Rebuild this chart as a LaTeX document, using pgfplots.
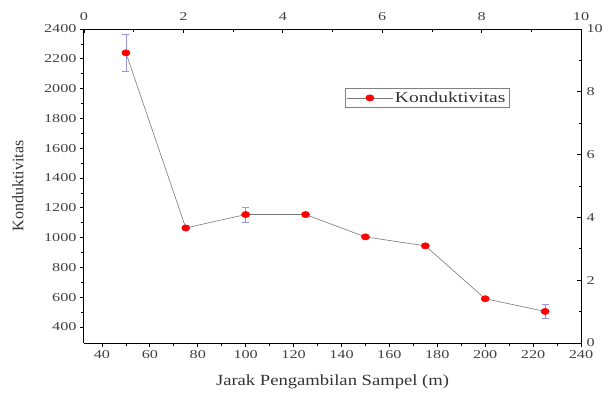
\documentclass[border=0pt]{standalone}
\usepackage{fontspec}
\setmainfont{Liberation Serif}
\newfontfamily\widetick[FakeStretch=1.35]{Liberation Serif}
\newfontfamily\widelab[FakeStretch=1.2]{Liberation Serif}
\newfontfamily\widelegend[FakeStretch=1.3]{Liberation Serif}
\usepackage{pgfplots}
\pgfplotsset{compat=1.18}
\definecolor{errc}{RGB}{150,150,225}
\definecolor{linec}{RGB}{120,120,120}
\begin{document}
\begin{tikzpicture}
\path[use as bounding box] (-84pt,-49pt) rectangle (525pt,343pt);
\begin{axis}[
  at={(0,0)}, anchor=south west,
  scale only axis, width=497pt, height=314pt,
  xmin=32.5, xmax=240, ymin=293, ymax=2400,
  axis x line*=bottom, axis y line*=left,
  axis line style={line width=1pt, -},
  xtick={40,60,...,240}, ytick={400,600,...,2400},
  minor x tick num=1, minor y tick num=1,
  tick align=outside, major tick length=4pt, minor tick length=2.5pt,
  tick style={line width=0.8pt, black},
  /pgf/number format/assume math mode=true,
  /pgf/number format/1000 sep={},
  tick label style={font=\widetick\fontsize{12}{12}\selectfont, text=black!75},
  xlabel={Jarak Pengambilan Sampel (m)},
  ylabel={Konduktivitas},
  xlabel style={font=\widelab\fontsize{15.5}{15.5}\selectfont, text=black!80,
    at={(axis description cs:0.5,-0.124)}, anchor=center},
  ylabel style={font=\fontsize{16}{16}\selectfont, text=black!80,
    at={(axis description cs:-0.133,0.5)}, anchor=center},
  legend style={at={(0.525,0.812)}, anchor=north west, draw=gray, line width=0.8pt,
    font=\widelegend\fontsize{15}{15}\selectfont, text=black!80, inner sep=1.5pt},
  legend cell align=left,
  legend image code/.code={\draw[mark repeat=2,mark phase=2] plot coordinates {(0cm,0cm) (0.8cm,0cm) (1.6cm,0cm)};},
]
\addplot[color=linec, line width=0.6pt, mark=*, mark size=3.1pt,
  mark options={fill=red, draw=red, xscale=1.3},
  error bars/.cd, y dir=both, y explicit,
  error bar style={color=errc, line width=0.8pt},
  error mark options={rotate=90, mark size=3.5pt, color=errc, line width=0.8pt}]
  coordinates {
  (50,2240) +- (0,125)
  (75,1065) +- (0,0)
  (100,1155) +- (0,50)
  (125,1155) +- (0,0)
  (150,1005) +- (0,0)
  (175,945) +- (0,0)
  (200,590) +- (0,0)
  (225,505) +- (0,45)
  };
\addlegendentry{Konduktivitas}
\end{axis}
\begin{axis}[
  at={(0,0)}, anchor=south west,
  scale only axis, width=497pt, height=314pt,
  xmin=0, xmax=10, ymin=0, ymax=10,
  axis x line*=top, axis y line*=right,
  axis line style={line width=1pt, -},
  xtick={0,2,...,10}, ytick={0,2,...,10},
  minor x tick num=1, minor y tick num=1,
  tick align=inside, major tick length=4pt, minor tick length=2.5pt,
  tick style={line width=0.8pt, black},
  /pgf/number format/assume math mode=true,
  tick label style={font=\widetick\fontsize{12}{12}\selectfont, text=black!75},
  x tick label style={yshift=5pt},
  y tick label style={xshift=2pt},
]
\addplot[draw=none] coordinates {(0,0)};
\end{axis}
\end{tikzpicture}
\end{document}
